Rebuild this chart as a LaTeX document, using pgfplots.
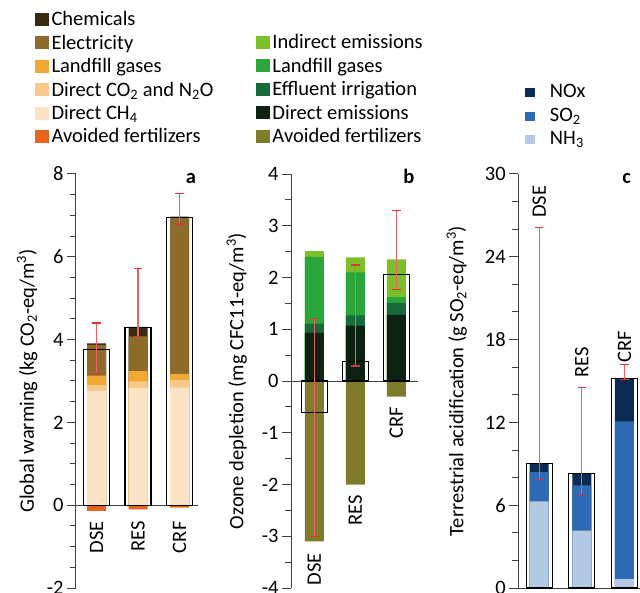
\documentclass[border=0pt]{standalone}
\usepackage{fontspec}
\setmainfont{Carlito}
\usepackage{pgfplots}
\usepackage{pgfplotstable}
\pgfplotsset{compat=1.18}

\definecolor{chem}{RGB}{58,42,16}
\definecolor{elec}{RGB}{140,107,43}
\definecolor{landa}{RGB}{242,169,51}
\definecolor{cotwo}{RGB}{247,201,139}
\definecolor{chfour}{RGB}{253,227,198}
\definecolor{avoida}{RGB}{232,100,28}
\definecolor{indir}{RGB}{124,191,43}
\definecolor{landb}{RGB}{43,166,58}
\definecolor{efflu}{RGB}{23,107,58}
\definecolor{direm}{RGB}{14,34,18}
\definecolor{avoidb}{RGB}{126,123,43}
\definecolor{nox}{RGB}{13,43,82}
\definecolor{sotwo}{RGB}{46,107,180}
\definecolor{nhthree}{RGB}{180,201,227}
\definecolor{errred}{RGB}{238,96,100}
\definecolor{errcap}{RGB}{222,52,60}

\newcommand\ff{\fontsize{20.5}{24}\selectfont}

% cumulative tops of stacked segments, net value, error plus/minus
\pgfplotstableread{
x chem elec land co2 ch4 avoid net ep em
1 3.91 3.87 3.13 2.90 2.76 -0.14 3.76 0.64 0.58
2 4.31 4.08 3.24 2.99 2.83 -0.10 4.30 1.41 0.23
3 6.97 6.95 3.17 3.02 2.84 -0.06 6.95 0.58 0.16
}\tabA
\pgfplotstableread{
x ind land eff dir avoid net ep em
1 2.51 2.40 1.11 0.93 -3.10 -0.61 1.82 2.39
2 2.39 2.10 1.27 1.07 -2.00 0.38 1.86 0.09
3 2.35 1.62 1.51 1.28 -0.30 2.06 1.24 0.29
}\tabB
\pgfplotstableread{
x nox so2 nh3 net ep em
1 9.00 8.40 6.27 9.00 17.10 1.16
2 8.26 7.43 4.16 8.28 6.27 1.48
3 15.20 12.07 0.65 15.20 0.97 0.07
}\tabC

\pgfplotsset{
  panel/.style={
    scale only axis, ybar, clip=false,
    height=414pt, anchor=south west,
    axis y line=left, axis x line=none,
    axis line style={-, draw=black!75, line width=1pt},
    tick align=outside, ytick pos=left,
    major tick length=9pt, minor tick length=6pt,
    tick style={draw=black!75, line width=1pt},
    xtick=\empty,
    tick label style={font=\ff},
    yticklabel style={/pgf/number format/assume math mode=true},
    label style={font=\ff},
    extra y ticks={0}, extra y tick labels={},
    extra y tick style={grid=major, major grid style={draw=black!75, line width=1pt}},
    legend style={anchor=north west, draw=none, fill=none, inner sep=0pt, outer sep=0pt,
      row sep=3.4pt, font=\ff, cells={anchor=base west},
      nodes={inner sep=0pt, text height=15pt, text depth=5pt},
      /tikz/every odd column/.append style={column sep=2.5pt}},
  },
  seg/.style={fill=#1, draw=none, bar width=19pt, bar shift=0pt,
    legend image code/.code={\fill[#1] (0pt,0pt) rectangle (14pt,13pt);}},
  segc/.style={fill=#1, draw=none, bar width=19pt, bar shift=0pt,
    legend image code/.code={\fill[#1] (0pt,0.5pt) rectangle (10pt,9.5pt);}},
  net/.style={fill=none, draw=black, line width=1.2pt, bar width=26pt, bar shift=0pt, forget plot,
    /pgfplots/error bars/y dir=both, /pgfplots/error bars/y explicit,
    /pgfplots/error bars/error bar style={draw=errred, line width=1.2pt},
    /pgfplots/error bars/error mark options={draw=errcap, rotate=90, mark size=4.2pt, line width=1.2pt}},
}

\begin{document}
\begin{tikzpicture}
\useasboundingbox (0,0) rectangle (640pt,592pt);

% ---------------- panel a
\begin{axis}[panel, at={(76pt,4pt)}, width=122.3pt,
  xmin=0.506, xmax=3.453, ymin=-2, ymax=8,
  ytick={-2,0,...,8}, minor tick num=3,
  ylabel={Global warming (kg CO\textsubscript{2}-eq/m\textsuperscript{3})},
  ylabel style={at={(axis description cs:-0.315,0.5)}, anchor=south, inner sep=0pt},
  legend style={at={(axis description cs:-0.3352,1.3937)}},
]
\addplot[seg=chem] table[x=x,y=chem]{\tabA}; \addlegendentry{Chemicals}
\addplot[seg=elec] table[x=x,y=elec]{\tabA}; \addlegendentry{Electricity}
\addplot[seg=landa] table[x=x,y=land]{\tabA}; \addlegendentry{Landfill gases}
\addplot[seg=cotwo] table[x=x,y=co2]{\tabA}; \addlegendentry{Direct CO\textsubscript{2} and N\textsubscript{2}O}
\addplot[seg=chfour] table[x=x,y=ch4]{\tabA}; \addlegendentry{Direct CH\textsubscript{4}}
\addplot[seg=avoida] table[x=x,y=avoid]{\tabA}; \addlegendentry{Avoided fertilizers}
\addplot[net] table[x=x,y=net,y error plus=ep,y error minus=em]{\tabA};
\node[rotate=90, anchor=east, font=\ff, inner sep=0pt] at (axis cs:1,-0.39) {DSE};
\node[rotate=90, anchor=east, font=\ff, inner sep=0pt] at (axis cs:2,-0.39) {RES};
\node[rotate=90, anchor=east, font=\ff, inner sep=0pt] at (axis cs:3,-0.39) {CRF};
\node[anchor=base, font=\ff\bfseries, inner sep=0pt] at (axis description cs:0.940,0.977) {a};
\end{axis}

% ---------------- panel b
\begin{axis}[panel, at={(291pt,4pt)}, width=127pt,
  xmin=0.432, xmax=3.529, ymin=-4, ymax=4,
  ytick={-4,-3,...,4}, minor tick num=1,
  ylabel={Ozone depletion (mg CFC11-eq/m\textsuperscript{3})},
  ylabel style={at={(axis description cs:-0.346,0.5)}, anchor=south, inner sep=0pt},
  legend style={at={(axis description cs:-0.2756,1.3382)}},
]
\addplot[seg=indir] table[x=x,y=ind]{\tabB}; \addlegendentry{Indirect emissions}
\addplot[seg=landb] table[x=x,y=land]{\tabB}; \addlegendentry{Landfill gases}
\addplot[seg=efflu] table[x=x,y=eff]{\tabB}; \addlegendentry{Effluent irrigation}
\addplot[seg=direm] table[x=x,y=dir]{\tabB}; \addlegendentry{Direct emissions}
\addplot[seg=avoidb] table[x=x,y=avoid]{\tabB}; \addlegendentry{Avoided fertilizers}
\addplot[net] table[x=x,y=net,y error plus=ep,y error minus=em]{\tabB};
\node[rotate=90, anchor=east, font=\ff, inner sep=0pt] at (axis cs:1,-3.33) {DSE};
\node[rotate=90, anchor=east, font=\ff, inner sep=0pt] at (axis cs:2,-2.21) {RES};
\node[rotate=90, anchor=east, font=\ff, inner sep=0pt] at (axis cs:3,-0.50) {CRF};
\node[anchor=base, font=\ff\bfseries, inner sep=0pt] at (axis description cs:0.929,0.977) {b};
\end{axis}

% ---------------- panel c
\begin{axis}[panel, at={(518.3pt,4pt)}, width=127.5pt,
  xmin=0.51, xmax=3.5, ymin=0, ymax=30,
  ytick={0,6,...,30}, minor tick num=2,
  ylabel={Terrestrial acidification (g SO\textsubscript{2}-eq/m\textsuperscript{3})},
  ylabel style={at={(axis description cs:-0.402,0.5)}, anchor=south, inner sep=0pt},
  legend style={at={(axis description cs:0.0525,1.2215)}, row sep=3.7pt,
    /tikz/every odd column/.append style={column sep=15pt}},
]
\addplot[segc=nox] table[x=x,y=nox]{\tabC}; \addlegendentry{NOx}
\addplot[segc=sotwo] table[x=x,y=so2]{\tabC}; \addlegendentry{SO\textsubscript{2}}
\addplot[segc=nhthree] table[x=x,y=nh3]{\tabC}; \addlegendentry{NH\textsubscript{3}}
\addplot[net] table[x=x,y=net,y error plus=ep,y error minus=em]{\tabC};
\node[rotate=90, anchor=west, font=\ff, inner sep=0pt] at (axis cs:1,26.81) {DSE};
\node[rotate=90, anchor=west, font=\ff, inner sep=0pt] at (axis cs:2,15.23) {RES};
\node[rotate=90, anchor=west, font=\ff, inner sep=0pt] at (axis cs:3,16.31) {CRF};
\node[anchor=base, font=\ff\bfseries, inner sep=0pt] at (axis description cs:0.850,0.977) {c};
\end{axis}
\end{tikzpicture}
\end{document}
